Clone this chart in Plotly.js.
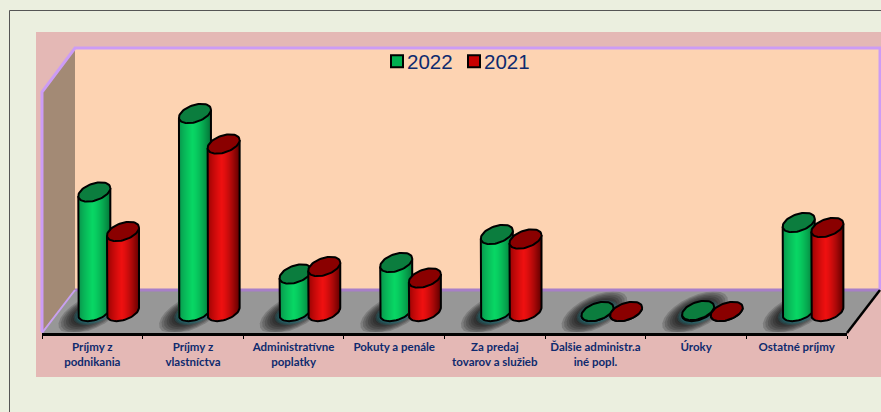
<!DOCTYPE html>
<html><head><meta charset="utf-8">
<script src="https://cdn.plot.ly/plotly-3.0.1.min.js"></script>
<style>html,body{margin:0;padding:0;background:#ebefdf}</style></head>
<body><div id="c" style="width:881px;height:412px"></div>
<script>
const categories = ['Príjmy z<br>podnikania','Príjmy z<br>vlastníctva','Administratívne<br>poplatky','Pokuty a penále<br> ','Za predaj<br>tovarov a služieb','Ďalšie administr.a<br>iné popl.','Úroky<br> ','Ostatné príjmy<br> '];
const values2022 = [119.5,198,37.5,49,77,0,1,89];
const values2021 = [80,167.5,45,33.5,72.5,0,0,84];
const series = [
 {name:'2022',values:values2022,base:'#00b050',cap:'#0b7d3e',edgeL:[8,138,72],mid:[8,214,100],edgeR:[4,120,58],off:0.02,xa:'x',ya:'y'},
 {name:'2021',values:values2021,base:'#c80000',cap:'#8a0000',edgeL:[140,0,0],mid:[238,16,16],edgeR:[100,0,0],off:0.305,xa:'x2',ya:'y2'}
];
const PW=805, PH=285, L=42, B=333;
const X=p=>(p-L)/PW, Y=p=>(B-p)/PH;
const unit=100.625, A=16, S=4, H=8.8, N=32;
const mix=(a,b,t)=>a.map((v,i)=>Math.round(v+(b[i]-v)*t));
const traces=[];
series.forEach(s=>{
  traces.push({type:'bar',name:s.name,x:s.values.map((_,i)=>i),y:s.values,base:0,offset:s.off-0.11,width:0.22,
    marker:{color:s.base,line:{color:'#000',width:2}},xaxis:s.xa,yaxis:s.ya,hoverinfo:'skip',showlegend:true});
  for(let k=0;k<N;k++){
    const c=(k+0.5)/N*2-1, t=(k+0.5)/N;
    const col=t<0.45?mix(s.edgeL,s.mid,Math.pow(t/0.45,0.7)):mix(s.mid,s.edgeR,Math.pow((t-0.45)/0.55,1.4));
    const bot=s.values.map(()=>S*c-H*Math.sqrt(1-c*c));
    traces.push({type:'bar',x:s.values.map((_,i)=>i),base:bot,y:s.values.map((v,i)=>v+S*c-bot[i]),
      offset:s.off+(c-1/N)*A/unit,width:2*A/unit/N,marker:{color:`rgb(${col})`,line:{width:0}},
      xaxis:s.xa,yaxis:s.ya,hoverinfo:'skip',showlegend:false});
  }
  const lx=[],ly=[],cx=[],cy=[];
  s.values.forEach((v,i)=>{
    const xc=i+s.off;
    lx.push(xc-A/unit);ly.push(v-S);
    for(let d=-180;d<=0;d+=6){const r=d*Math.PI/180;lx.push(xc+A*Math.cos(r)/unit);ly.push(S*Math.cos(r)+H*Math.sin(r));}
    lx.push(xc+A/unit,null);ly.push(v+S,null);
    for(let d=0;d<=360;d+=6){const r=d*Math.PI/180;cx.push(xc+A*Math.cos(r)/unit);cy.push(v+S*Math.cos(r)+H*Math.sin(r));}
    cx.push(null);cy.push(null);
  });
  traces.push({type:'scatter',mode:'lines',x:lx,y:ly,line:{color:'#000',width:2},xaxis:s.xa,yaxis:s.ya,hoverinfo:'skip',showlegend:false});
  traces.push({type:'scatter',mode:'lines',x:cx,y:cy,fill:'toself',fillcolor:s.cap,line:{color:'#000',width:2},xaxis:s.xa,yaxis:s.ya,hoverinfo:'skip',showlegend:false});
});
const poly=(pts,fill,line,w)=>({type:'path',xref:'paper',yref:'paper',layer:'below',
  path:'M'+pts.map(p=>X(p[0])+' '+Y(p[1])).join('L')+(fill?'Z':''),fillcolor:fill||'rgba(0,0,0,0)',line:{color:line||'rgba(0,0,0,0)',width:w||0}});
const shapes=[
 poly([[9.5,412],[9.5,10.5],[881,10.5]],null,'#555',1),
 poly([[36,32],[881,32],[881,377],[36,377]],'#e4b8b5'),
 poly([[75,48],[880,48],[880,290],[75,290]],'#fdd3b2'),
 poly([[42,92],[75,48],[75,290],[42,332]],'#a38a75'),
 poly([[75,290],[880,290],[847,333],[42,333]],'#979797')
];
categories.forEach((_,i)=>{
  const cx=L+(i+0.5)*unit+2, cy=311.5;
  for(let k=0;k<11;k++){
    const f=1.12-k*0.085, pts=[];
    for(let d=0;d<360;d+=15){const r=d*Math.PI/180;
      pts.push([cx-3+f*(17*Math.cos(r)+24*Math.sin(r)),Math.min(332,cy+1+f*(-19*Math.cos(r)))]);}
    shapes.push(poly(pts,'rgba(0,0,0,0.16)'));
  }
  for(let k=0;k<3;k++){
    const f=1.3-k*0.1, pts=[];
    for(let d=0;d<360;d+=15){const r=d*Math.PI/180;
      pts.push([cx+f*A*Math.cos(r),cy+1-f*(S*Math.cos(r)+H*Math.sin(r))]);}
    shapes.push(poly(pts,'rgba(40,170,180,0.16)'));
  }
});
shapes.push(
 poly([[75,290],[880,290]],null,'#a87fc8',3),
 poly([[42,333],[75,290]],null,'#c8a0f0',2),
 poly([[42,332],[42,92],[75,48],[881,48]],null,'#cc9cf5',3),
 poly([[880,48],[880,290]],null,'#cc9cf5',3),
 poly([[847,333],[880,290]],null,'#000',2.5)
);
const ax={range:[-0.5,7.5],fixedrange:true};
const layout={width:881,height:412,paper_bgcolor:'#ebefdf',plot_bgcolor:'rgba(0,0,0,0)',
  margin:{l:L,r:881-L-PW,t:B-PH,b:412-B},barmode:'overlay',shapes,
  font:{family:'Lato,"Noto Sans",sans-serif'},
  xaxis:Object.assign({},ax,{tickmode:'array',tickvals:categories.map((_,i)=>i),ticktext:categories,
    ticks:'outside',ticklen:1,tickcolor:'rgba(0,0,0,0)',showgrid:false,zeroline:false,showline:true,linecolor:'#000',linewidth:3,
    tickangle:0,tickfont:{family:'Lato,"Noto Sans",sans-serif',size:11.5,color:'#0e2a6e',weight:700},
    minor:{tick0:-0.5,dtick:1,ticks:'outside',ticklen:3,tickcolor:'#000',tickwidth:1,showgrid:false}}),
  yaxis:{range:[-21.5,263.5],visible:false,fixedrange:true},
  xaxis2:Object.assign({},ax,{overlaying:'x',visible:false}),
  yaxis2:{range:[-21.5,263.5],overlaying:'y',visible:false,fixedrange:true},
  legend:{orientation:'h',x:(377-L)/PW,xanchor:'left',y:1.023,yanchor:'top',bgcolor:'rgba(0,0,0,0)',
    font:{family:'"Liberation Sans",Arial,sans-serif',size:20.5,color:'#0e2a6e'},entrywidth:32,entrywidthmode:'pixels'}
};
Plotly.newPlot('c',traces,layout,{displayModeBar:false}).then(()=>{
  document.querySelectorAll('.legend text.legendtext').forEach(t=>t.setAttribute('x','30'));
});
</script></body></html>
